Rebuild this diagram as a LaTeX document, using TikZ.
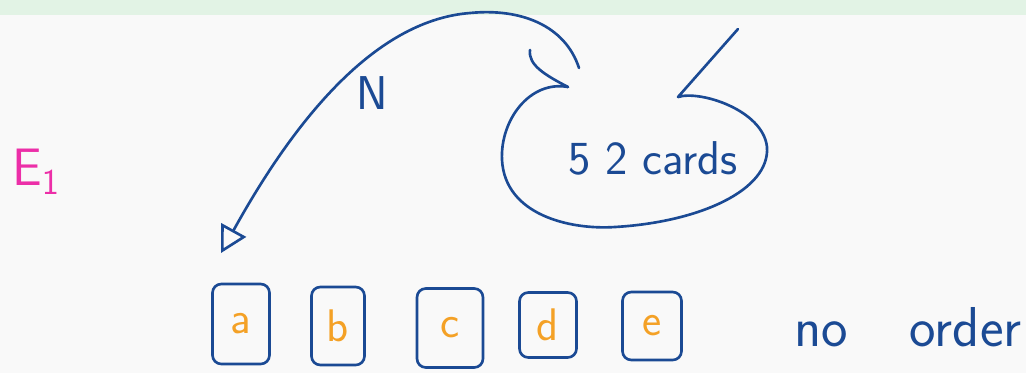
\documentclass[tikz,border=0pt]{standalone}
\usetikzlibrary{arrows.meta}
\definecolor{ink}{HTML}{1B4A94}
\definecolor{letter}{HTML}{F4A126}
\definecolor{pinkink}{HTML}{EC2FA8}
\definecolor{band}{HTML}{E2F3E5}
\definecolor{paper}{HTML}{F9F9F9}
\tikzset{
  pen/.style={draw=ink, line width=1.5pt, line cap=round, line join=round},
  card/.style={pen, rounded corners=5pt, inner sep=0pt, text=letter,
    font=\sffamily\fontsize{26}{26}\selectfont},
  scrawl/.style={text=ink, font=\sffamily\fontsize{27}{27}\selectfont}
}
\begin{document}
\begin{tikzpicture}[x=0.02cm, y=-0.02cm]

\fill [paper] (0,0) rectangle (1026,373);
\fill [band] (0,0) rectangle (1026,15);
\useasboundingbox (0,0) rectangle (1026,373);

\node [text=pinkink, font=\sffamily\fontsize{30}{30}\selectfont] (event) at (36,172) {E$_{\mathsf{1}}$};

% the five cards drawn
\node [card, minimum width=1.14cm, minimum height=1.6cm] (cardA) at (241,324) {a};
\node [card, minimum width=1.06cm, minimum height=1.56cm] (cardB) at (338,326) {b};
\node [card, minimum width=1.32cm, minimum height=1.58cm] (cardC) at (450,328) {c};
\node [card, minimum width=1.14cm, minimum height=1.3cm] (cardD) at (548,325) {d};
\node [card, minimum width=1.18cm, minimum height=1.36cm] (cardE) at (652,326) {e};

\node [scrawl, font=\sffamily\fontsize{32}{32}\selectfont] (noorder) at (908,327) {no\hspace{1.1em}order};

% the bag
\node [scrawl] (deck) at (653,158) {5 2 cards};
\coordinate (mouth) at (568,87);
\coordinate (grab) at (579,68);
\coordinate (drop) at (221,253);
\draw [pen] (mouth) .. controls (530,80) and (500,120) .. (502,160)
  .. controls (505,215) and (570,230) .. (615,227)
  .. controls (700,222) and (770,190) .. (767,147)
  .. controls (763,110) and (700,90) .. (678,97) -- (738,29);
\draw [pen] (mouth) .. controls (545,75) and (528,65) .. (530,50);

\draw [pen, -{Triangle[open, length=15pt, width=16pt, line width=1.5pt]}]
  (grab) .. controls (565,25) and (520,8) .. (470,13)
  .. controls (380,20) and (300,110) .. (drop);
\node [scrawl] (count) at (372,93) {N};

\end{tikzpicture}
\end{document}
